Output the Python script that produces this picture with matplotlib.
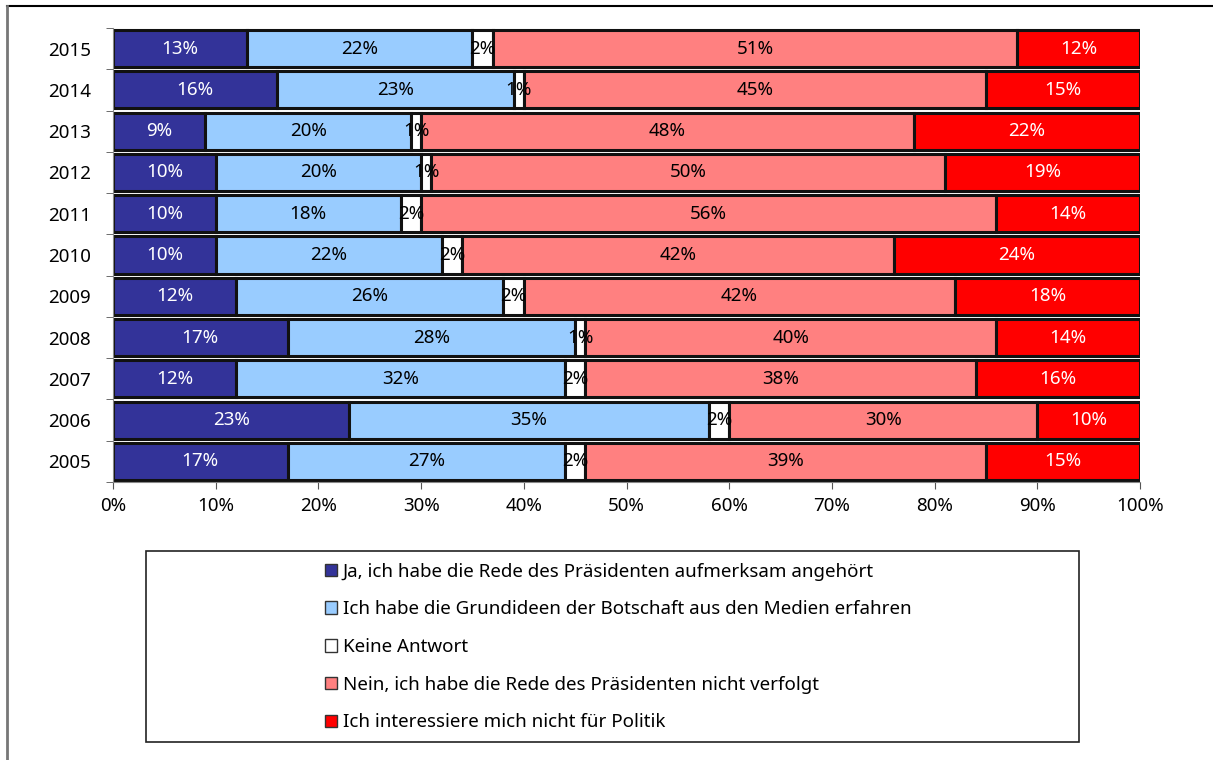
import matplotlib
matplotlib.use("Agg")
import matplotlib.pyplot as plt
import numpy as np
from matplotlib.lines import Line2D
from matplotlib.patches import Rectangle, Patch

plt.rcParams["font.family"] = ["Noto Sans", "DejaVu Sans"]

years = ["2005", "2006", "2007", "2008", "2009", "2010",
         "2011", "2012", "2013", "2014", "2015"]
ja = [17, 23, 12, 17, 12, 10, 10, 10, 9, 16, 13]
medien = [27, 35, 32, 28, 26, 22, 18, 20, 20, 23, 22]
keine = [2, 2, 2, 1, 2, 2, 2, 1, 1, 1, 2]
nein = [39, 30, 38, 40, 42, 42, 56, 50, 48, 45, 51]
politik = [15, 10, 16, 14, 18, 24, 14, 19, 22, 15, 12]

series = [ja, medien, keine, nein, politik]
names = [
    "Ja, ich habe die Rede des Präsidenten aufmerksam angehört",
    "Ich habe die Grundideen der Botschaft aus den Medien erfahren",
    "Keine Antwort",
    "Nein, ich habe die Rede des Präsidenten nicht verfolgt",
    "Ich interessiere mich nicht für Politik",
]
colors = ["#333399", "#99ccff", "#ffffff", "#ff8080", "#ff0000"]
text_colors = ["white", "black", "black", "black", "white"]

fig = plt.figure(figsize=(12.13, 7.6), dpi=100)
ax = fig.add_axes([0.0932, 0.3658, 0.8466, 0.5974])

y = np.arange(len(years))
left = np.zeros(len(years))
for vals, col, tcol in zip(series, colors, text_colors):
    vals = np.array(vals, dtype=float)
    ax.barh(y, vals, left=left, height=0.9, color=col,
            edgecolor="#111111", linewidth=2.2)
    for yi, (l, v) in enumerate(zip(left, vals)):
        ax.text(l + v / 2, yi, f"{int(v)}%", ha="center", va="center",
                color=tcol, fontsize=13.5)
    left += vals

ax.set_xlim(0, 100)
ax.set_ylim(-0.5, len(years) - 0.5)
ax.set_xticks(np.arange(0, 101, 10))
ax.set_xticklabels([f"{v}%" for v in range(0, 101, 10)], fontsize=13.5)
ax.set_yticks(y)
ax.set_yticklabels(years, fontsize=13.5)
ax.set_yticks(np.arange(-0.5, len(years), 1), minor=True)
ax.tick_params(axis="y", which="major", length=0, pad=16)
ax.tick_params(axis="y", which="minor", length=5, color="#555555")
ax.tick_params(axis="x", length=5, color="#555555", pad=6)
for s in ["top", "right"]:
    ax.spines[s].set_visible(False)
for s in ["left", "bottom"]:
    ax.spines[s].set_color("#888888")

# outer frame (top and left edges)
fig.add_artist(Line2D([7 / 1213, 1], [1 - 6 / 760, 1 - 6 / 760],
                      transform=fig.transFigure, color="black", lw=1.5))
fig.add_artist(Line2D([7 / 1213, 7 / 1213], [0, 1 - 6 / 760],
                      transform=fig.transFigure, color="#777777", lw=2))

# legend box
fig.add_artist(Rectangle((146 / 1213, 1 - 742 / 760), 933 / 1213, 191 / 760,
                         transform=fig.transFigure, facecolor="white",
                         edgecolor="#222222", lw=1.2))
handles = [Patch(facecolor=c, edgecolor="#333333", lw=1) for c in colors]
fig.legend(handles, names, loc="center", bbox_to_anchor=(618 / 1213, 1 - 647 / 760),
           frameon=False, fontsize=13.5, handlelength=0.65, handleheight=0.65,
           handletextpad=0.3, labelspacing=1.05)

fig.savefig("out.png", dpi=100)
